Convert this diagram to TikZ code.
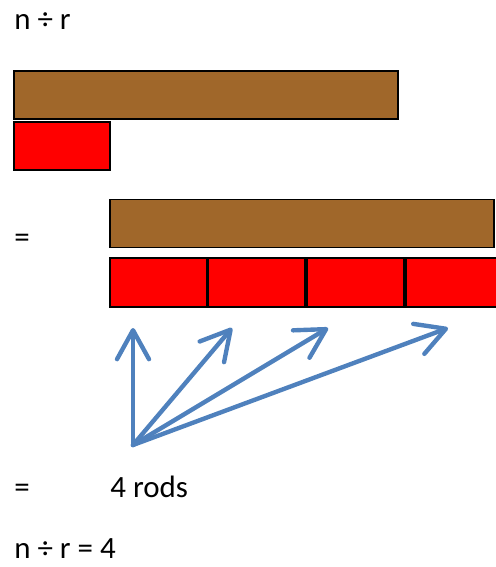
\documentclass[tikz,border=0pt]{standalone}
\usepackage{fontspec}
\setmainfont{Carlito}
\usetikzlibrary{positioning}
\usetikzlibrary{arrows.meta}
\definecolor{rodbrown}{RGB}{160,103,42}
\definecolor{arrowblue}{RGB}{79,129,189}

\begin{document}
\begin{tikzpicture}[x=0.02cm, y=-0.02cm,
		txt/.style={anchor=base west, inner sep=0pt, font=\fontsize{17.6}{21}\selectfont},
		brownrod/.style={draw=black, line width=1.1pt, fill=rodbrown, inner sep=0pt, minimum width=7.68cm, minimum height=0.96cm},
		redrod/.style={draw=black, line width=1.1pt, fill=red, inner sep=0pt, minimum width=1.93cm, minimum height=0.97cm},
		countarrow/.style={draw=arrowblue, line width=2.5pt, line cap=round, -{Straight Barb[length=5.8mm, width=6.4mm, round]}},
		]
		\useasboundingbox (0,0) rectangle (496,567);
		%Nodes
		\node[txt]            (top)    at  (14,30)      {n ÷ r};
		\node[brownrod]       (b1)     at  (206,95)     {};
		\node[redrod]         (r0)     at  (62,146)     {};
		\node[txt]            (eq1)    at  (14,248)     {=};
		\node[brownrod]       (b2)     at  (302,223.5)  {};
		\node[redrod]         (r1)     at  (158.5,282.5){};
		\node[redrod]         (r2)     at  (256.5,282.5){};
		\node[redrod]         (r3)     at  (355.5,282.5){};
		\node[redrod]         (r4)     at  (454.5,282.5){};
		\node[txt]            (eq2)    at  (14,497)     {=};
		\node[txt]            (count)  at  (110,497)    {4 rods};
		\node[txt]            (result) at  (14,558)     {n ÷ r = 4};
		
		\coordinate (base) at (133,445);
		\coordinate (t1)   at (133,328);
		\coordinate (t2)   at (232,328);
		\coordinate (t3)   at (328,328);
		\coordinate (t4)   at (448,328);
		
		%Lines
		\draw[countarrow] (base) -- (t1);
		\draw[countarrow] (base) -- (t2);
		\draw[countarrow] (base) -- (t3);
		\draw[countarrow] (base) -- (t4);
\end{tikzpicture}
\end{document}
